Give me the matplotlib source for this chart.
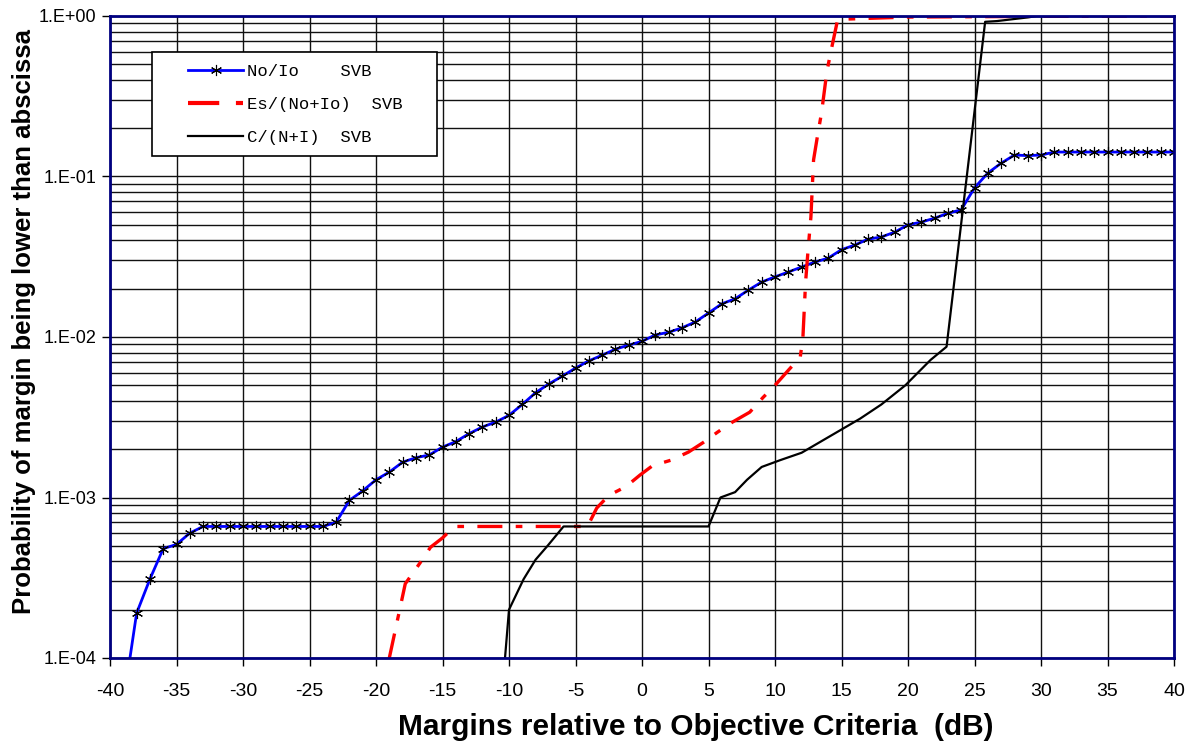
import matplotlib
matplotlib.use("Agg")
import matplotlib.pyplot as plt
import numpy as np
from matplotlib.lines import Line2D
from matplotlib.patches import Rectangle

plt.rcParams["axes.unicode_minus"] = False

# No/Io SVB  (blue, asterisk markers, 1 dB step)
no_io_x = [-38.5, -38, -37, -36, -35, -34, -33, -32, -31, -30, -29, -28, -27, -26, -25, -24,
           -23, -22, -21, -20, -19, -18, -17, -16, -15, -14, -13, -12, -11, -10, -9, -8,
           -7, -6, -5, -4, -3, -2, -1, 0, 1, 2, 3, 4, 5, 6, 7, 8, 9, 10, 11, 12, 13, 14,
           15, 16, 17, 18, 19, 20, 21, 22, 23, 24, 25, 26, 27, 28, 29, 30, 31, 32, 33,
           34, 35, 36, 37, 38, 39, 40]
no_io_p = [1.0e-4, 1.9e-4, 3.1e-4, 4.8e-4, 5.1e-4, 6.0e-4, 6.6e-4, 6.6e-4, 6.6e-4, 6.6e-4,
           6.6e-4, 6.6e-4, 6.6e-4, 6.6e-4, 6.6e-4, 6.6e-4,
           7.0e-4, 9.6e-4, 1.1e-3, 1.29e-3, 1.44e-3, 1.66e-3, 1.77e-3, 1.84e-3, 2.06e-3,
           2.23e-3, 2.5e-3, 2.75e-3, 2.95e-3, 3.25e-3, 3.8e-3, 4.5e-3,
           5.1e-3, 5.7e-3, 6.4e-3, 7.1e-3, 7.7e-3, 8.4e-3, 8.9e-3, 9.4e-3, 1.03e-2, 1.07e-2,
           1.14e-2, 1.24e-2, 1.41e-2, 1.61e-2, 1.73e-2, 1.96e-2, 2.2e-2, 2.37e-2, 2.54e-2,
           2.73e-2, 2.93e-2, 3.1e-2,
           3.5e-2, 3.74e-2, 4.07e-2, 4.2e-2, 4.5e-2, 5.0e-2, 5.2e-2, 5.5e-2, 5.9e-2, 6.2e-2,
           8.5e-2, 0.105, 0.121, 0.136, 0.135, 0.136, 0.142, 0.142, 0.142,
           0.142, 0.142, 0.142, 0.142, 0.142, 0.142, 0.142]

# Es/(No+Io) SVB  (red dash-dot)
es_x = [-19.0, -17.8, -16.7, -15.9, -15.0, -14.1, -4.1, -3.4, -2.5, -1.2, -0.15, 0.8, 2.2,
        3.5, 4.6, 5.7, 6.8, 8.1, 9.1, 10.0, 11.0, 11.9, 12.1, 12.3, 12.5, 12.7, 12.9, 13.2,
        13.5, 13.9, 14.2, 14.7, 15.1, 20, 30, 40]
es_p = [1e-4, 2.9e-4, 3.9e-4, 4.9e-4, 5.6e-4, 6.6e-4, 6.6e-4, 8.6e-4, 1.03e-3, 1.17e-3,
        1.38e-3, 1.58e-3, 1.71e-3, 1.92e-3, 2.2e-3, 2.56e-3, 2.95e-3, 3.4e-3, 4.2e-3,
        5.0e-3, 6.2e-3, 7.5e-3, 1.0e-2, 2.2e-2, 3.6e-2, 5.6e-2, 0.127, 0.18, 0.25, 0.45,
        0.6, 0.94, 0.955, 0.985, 0.995, 1.0]

# C/(N+I) SVB  (black)
cni_x = [-10.3, -10.0, -8.9, -8.0, -7.1, -5.9, 5.0, 5.9, 7.0, 7.9, 9.0, 10.4, 12.0, 14.1,
         16.4, 18.0, 19.8, 21.7, 22.9, 25.8, 26.7, 29.0, 29.7, 40.0]
cni_p = [1e-4, 2.0e-4, 3.1e-4, 4.1e-4, 5.0e-4, 6.6e-4, 6.6e-4, 1.0e-3, 1.08e-3, 1.29e-3,
         1.55e-3, 1.71e-3, 1.9e-3, 2.4e-3, 3.1e-3, 3.8e-3, 5.0e-3, 7.2e-3, 8.7e-3, 0.92,
         0.93, 0.98, 1.0, 1.0]

x_ticks = list(range(-40, 41, 5))
y_ticks = [1e-4, 1e-3, 1e-2, 1e-1, 1e0]
y_tick_labels = ["1.E-04", "1.E-03", "1.E-02", "1.E-01", "1.E+00"]
legend_labels = ["No/Io    SVB", "Es/(No+Io)  SVB", "C/(N+I)  SVB"]

navy = "#000080"
asterisk = (6, 2, 0)
W, H = 1192, 743
ax_l, ax_t, ax_w, ax_h = 110, 16, 1064, 642

fig = plt.figure(figsize=(W / 100, H / 100), dpi=100)
ax = fig.add_axes([ax_l / W, 1 - (ax_t + ax_h) / H, ax_w / W, ax_h / H])

ax.set_yscale("log")
ax.set_xlim(-40, 40)
ax.set_ylim(1e-4, 1)

# grid: vertical every 5 dB, horizontal at every log minor step
ax.set_xticks(x_ticks)
ax.set_yticks(y_ticks)
ax.set_yticklabels(y_tick_labels)
minor = [m * 10.0 ** e for e in range(-4, 0) for m in range(2, 10)]
ax.set_yticks(minor, minor=True)
ax.set_yticklabels([], minor=True)
ax.tick_params(axis="y", which="minor", length=0)
ax.grid(True, which="both", axis="y", color="#111111", lw=1.0)
ax.grid(True, which="major", axis="x", color="#111111", lw=1.0)
ax.set_axisbelow(True)

ax.plot(no_io_x, no_io_p, color="#0000ff", lw=2.0, marker=asterisk, markersize=8,
        markeredgecolor="black", markeredgewidth=0.8, markevery=slice(1, None), zorder=3)
ax.plot(es_x, es_p, color="#ff0000", lw=2.4, dashes=(7.5, 4, 2, 4), zorder=3)
ax.plot(cni_x, cni_p, color="black", lw=1.6, zorder=3)

for s in ax.spines.values():
    s.set_color(navy)
    s.set_linewidth(2.0)
    s.set_zorder(4)

ax.tick_params(axis="both", which="major", direction="out", length=6, width=1.0,
               color="black")
ax.tick_params(axis="x", pad=12)
ax.tick_params(axis="y", pad=4)
for lab in ax.get_xticklabels():
    lab.set_fontfamily(["Liberation Sans", "DejaVu Sans"])
    lab.set_fontsize(14)
for lab in ax.get_yticklabels():
    lab.set_fontfamily(["Liberation Sans", "DejaVu Sans"])
    lab.set_fontsize(13)

ax.set_xlabel("Margins relative to Objective Criteria  (dB)", fontsize=21.5,
              fontweight="bold", family=["Liberation Sans", "DejaVu Sans"])
ax.xaxis.set_label_coords((696 - ax_l) / ax_w, -(713 - (ax_t + ax_h)) / ax_h)
ax.set_ylabel("Probability of margin being lower than abscissa", fontsize=18.5,
              fontweight="bold", family=["Liberation Sans", "DejaVu Sans"])
ax.yaxis.set_label_coords((36 - ax_l) / ax_w, (ax_t + ax_h - 322) / ax_h)

# legend box drawn separately so its padding matches the reference
box_l, box_t, box_r, box_b = 152, 52, 437, 156
ax.add_patch(Rectangle(((box_l - ax_l) / ax_w, 1 - (box_b - ax_t) / ax_h),
                       (box_r - box_l) / ax_w, (box_b - box_t) / ax_h,
                       transform=ax.transAxes, facecolor="white", edgecolor="black",
                       lw=1.2, zorder=5, clip_on=False))

handles = [
    Line2D([], [], color="#0000ff", lw=2.0, marker=asterisk, markersize=8,
           markeredgecolor="black", markeredgewidth=0.8),
    Line2D([], [], color="#ff0000", lw=3, dashes=(7.5, 4, 2, 4)),
    Line2D([], [], color="black", lw=1.6),
]
leg = ax.legend(handles, legend_labels, loc="upper left",
                bbox_to_anchor=((188 - ax_l) / ax_w, 1 - (64 - ax_t) / ax_h),
                frameon=False, borderpad=0, labelspacing=1.05,
                handlelength=3.2, handletextpad=0.25, numpoints=1, borderaxespad=0,
                prop={"family": ["Liberation Mono", "DejaVu Sans Mono"], "size": 12.4})
leg.set_zorder(6)

fig.savefig("out.png", dpi=100)
